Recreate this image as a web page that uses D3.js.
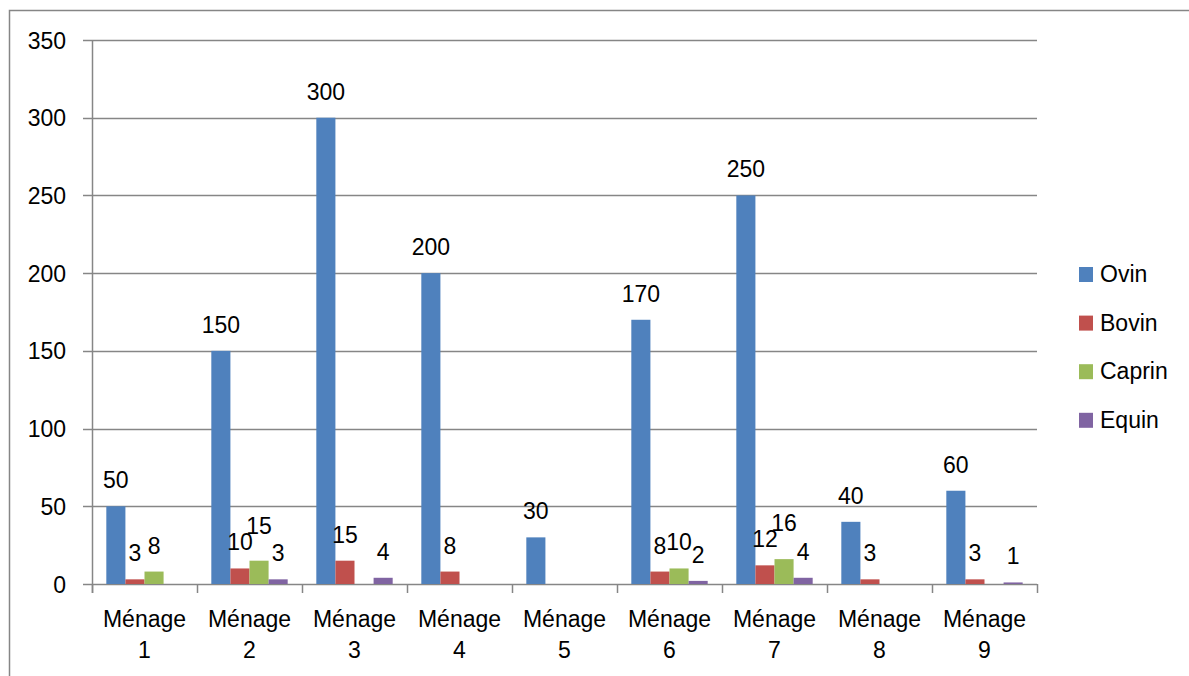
<!DOCTYPE html>
<html>
<head>
<meta charset="utf-8">
<script src="https://cdn.jsdelivr.net/npm/d3@7"></script>
<style>
  body { margin: 0; background: #fff; }
  text { font-family: "Liberation Sans", Arial, sans-serif; fill: #000; }
</style>
</head>
<body>
<div id="chart"></div>
<script>
const categories = ["Ménage 1", "Ménage 2", "Ménage 3", "Ménage 4", "Ménage 5", "Ménage 6", "Ménage 7", "Ménage 8", "Ménage 9"];
const seriesNames = ["Ovin", "Bovin", "Caprin", "Equin"];
const ovin   = [50, 150, 300, 200, 30, 170, 250, 40, 60];
const bovin  = [3, 10, 15, 8, 0, 8, 12, 3, 3];
const caprin = [8, 15, 0, 0, 0, 10, 16, 0, 0];
const equin  = [0, 3, 4, 0, 0, 2, 4, 0, 1];
const yTicks = [0, 50, 100, 150, 200, 250, 300, 350];
const colors = ["#4F81BD", "#C0504D", "#9BBB59", "#8064A2"];

const seriesValues = [ovin, bovin, caprin, equin];
const width = 1189, height = 676;
const plotLeft = 92, plotRight = 1037, plotTop = 40, plotBottom = 584;
const fontSize = 23;

const svg = d3.select("#chart").append("svg")
    .attr("width", width)
    .attr("height", height);

// outer chart border
svg.append("rect")
    .attr("x", 9.5).attr("y", 10.5)
    .attr("width", 1300).attr("height", 800)
    .attr("fill", "none").attr("stroke", "#868686").attr("stroke-width", 1.5);

const x = d3.scaleBand().domain(categories).range([plotLeft, plotRight]);
const xs = d3.scaleBand().domain(seriesNames).range([0, x.bandwidth()]).paddingOuter(0.75);
const y = d3.scaleLinear().domain([0, 350]).range([plotBottom, plotTop]);

// gridlines
svg.append("g").selectAll("line")
    .data(yTicks)
    .enter().append("line")
    .attr("x1", plotLeft - 9).attr("x2", plotRight)
    .attr("y1", d => Math.round(y(d)) + 0.5).attr("y2", d => Math.round(y(d)) + 0.5)
    .attr("stroke", "#868686").attr("stroke-width", 1.5);

// y axis line
svg.append("line")
    .attr("x1", plotLeft + 0.5).attr("x2", plotLeft + 0.5)
    .attr("y1", plotTop).attr("y2", plotBottom + 9)
    .attr("stroke", "#868686").attr("stroke-width", 1.5);

// y labels
svg.append("g").selectAll("text")
    .data(yTicks)
    .enter().append("text")
    .attr("x", 66)
    .attr("y", d => y(d) + 8.5)
    .attr("text-anchor", "end")
    .attr("font-size", fontSize)
    .text(d => d);

// x category ticks
const boundaries = categories.map(c => x(c)).concat([plotRight]);
svg.append("g").selectAll("line")
    .data(boundaries)
    .enter().append("line")
    .attr("x1", d => Math.round(d) + 0.5).attr("x2", d => Math.round(d) + 0.5)
    .attr("y1", plotBottom).attr("y2", plotBottom + 9)
    .attr("stroke", "#868686").attr("stroke-width", 1.5);

// x labels (two lines)
const xl = svg.append("g").selectAll("text")
    .data(categories)
    .enter().append("text")
    .attr("text-anchor", "middle")
    .attr("font-size", fontSize);
xl.append("tspan")
    .attr("x", d => x(d) + x.bandwidth() / 2)
    .attr("y", 627)
    .text(d => d.split(" ")[0]);
xl.append("tspan")
    .attr("x", d => x(d) + x.bandwidth() / 2)
    .attr("y", 658)
    .text(d => d.split(" ")[1]);

// bars
const barData = [];
categories.forEach((c, i) => {
    seriesNames.forEach((s, j) => {
        const v = seriesValues[j][i];
        if (v > 0) barData.push({ cat: c, series: s, idx: j, value: v });
    });
});

svg.append("g").selectAll("rect")
    .data(barData)
    .enter().append("rect")
    .attr("x", d => x(d.cat) + xs(d.series))
    .attr("y", d => y(d.value))
    .attr("width", xs.bandwidth())
    .attr("height", d => plotBottom - y(d.value))
    .attr("fill", d => colors[d.idx]);

// data labels, nudged up when they collide with a neighbour
const digitW = fontSize * 0.556;
const lineH = 16;
const placed = {};
barData.forEach(d => {
    d.lx = x(d.cat) + xs(d.series) + xs.bandwidth() / 2;
    d.ly = y(d.value) - 18;
    d.w = String(d.value).length * digitW;
    const others = placed[d.cat] || (placed[d.cat] = []);
    others.forEach(o => {
        const hOverlap = (d.w + o.w) / 2 - Math.abs(d.lx - o.lx);
        if (hOverlap > 2 && Math.abs(d.ly - o.ly) < lineH) d.ly = o.ly - lineH;
    });
    others.push(d);
});

svg.append("g").selectAll("text")
    .data(barData)
    .enter().append("text")
    .attr("x", d => d.lx)
    .attr("y", d => d.ly)
    .attr("text-anchor", "middle")
    .attr("font-size", fontSize)
    .text(d => d.value);

// legend
const legend = svg.append("g").selectAll("g")
    .data(seriesNames)
    .enter().append("g")
    .attr("transform", (d, i) => `translate(1079, ${267 + i * 48.6})`);
legend.append("rect")
    .attr("width", 14).attr("height", 15)
    .attr("fill", (d, i) => colors[i]);
legend.append("text")
    .attr("x", 21).attr("y", 15)
    .attr("font-size", fontSize)
    .text(d => d);
</script>
</body>
</html>
